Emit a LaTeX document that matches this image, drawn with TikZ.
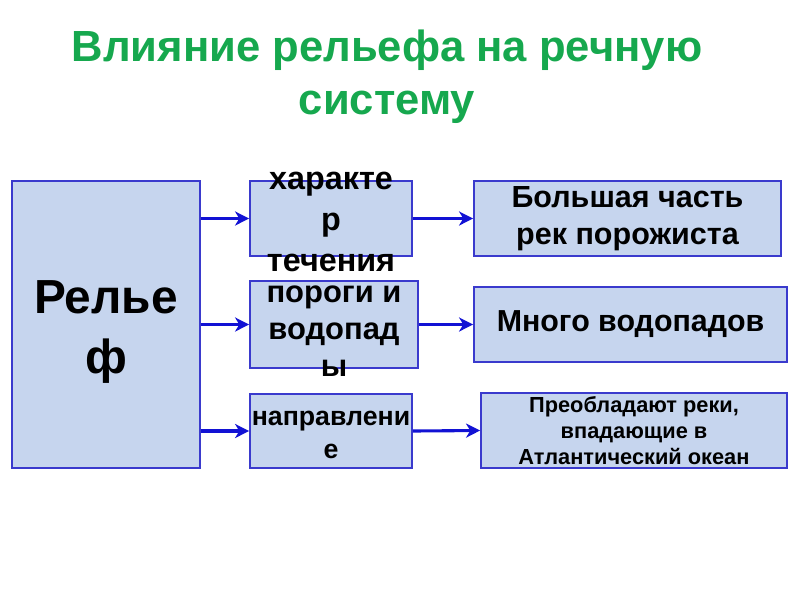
\documentclass[tikz,border=0pt]{standalone}
\usepackage{fontspec}
\setmainfont{Liberation Sans}
\usetikzlibrary{positioning, calc, arrows.meta}
\definecolor{titlegreen}{RGB}{22,168,78}
\definecolor{boxfill}{RGB}{198,213,238}
\definecolor{boxline}{RGB}{58,58,205}
\definecolor{arrowblue}{RGB}{18,18,212}

\tikzset{
  box/.style={draw=boxline, fill=boxfill, line width=1.2pt, inner sep=0pt},
  midtext/.style={align=center, inner sep=0pt},
  arr/.style={draw=arrowblue, line width=2.2pt, -{Stealth[length=10pt, width=10pt, inset=3pt]}}
}

\begin{document}
\begin{tikzpicture}[x=0.025cm, y=-0.025cm]
  \useasboundingbox (0,0) rectangle (800,600);

  % TITLE
  \node[titlegreen, align=center, font=\fontsize{31}{38}\selectfont\bfseries] (title) at (387,77)
    {Влияние рельефа на речную\\систему};

  % LEFT BOX
  \node[box, minimum width=4.7cm, minimum height=7.175cm] (relief) at (106,324.5) {};
  \node[midtext, font=\fontsize{34}{42}\selectfont\bfseries] (relieftext) at (106,332) {Релье\\ф};

  % MIDDLE BOXES (text runs over the box edges)
  \node[box, minimum width=4.05cm, minimum height=1.875cm] (flow) at (331,218.5) {};
  \node[box, minimum width=4.2cm, minimum height=2.175cm] (rapids) at (334,324.5) {};
  \node[box, minimum width=4.05cm, minimum height=1.85cm] (course) at (331,431) {};
  \node[midtext, font=\fontsize{23}{29}\selectfont\bfseries] (flowtext) at (331,222) {характе\\р\\течения};
  \node[midtext, font=\fontsize{22}{26.5}\selectfont\bfseries] (rapidstext) at (334,331) {пороги и\\водопад\\ы};
  \node[midtext, font=\fontsize{19}{24}\selectfont\bfseries] (coursetext) at (331,435) {направлени\\е};

  % RIGHT BOXES
  \node[box, minimum width=7.675cm, minimum height=1.875cm, align=center,
    font=\fontsize{21.7}{26}\selectfont\bfseries] (most) at (627.5,218.5) {Большая часть\\рек порожиста};
  \node[box, minimum width=7.825cm, minimum height=1.875cm,
    font=\fontsize{21.6}{26}\selectfont\bfseries] (falls) at (630.5,324.5) {Много водопадов};
  \node[box, minimum width=7.65cm, minimum height=1.875cm, align=center,
    font=\fontsize{15.5}{18.5}\selectfont\bfseries] (ocean) at (634,430.5)
    {Преобладают реки,\\впадающие в\\Атлантический океан};

  % arrows
  \foreach \a/\b in {flow/most, rapids/falls, course/ocean}{
    \draw[arr] (relief.east |- \a.west) -- (\a.west);
    \draw[arr] (\a.east) -- (\b.west);
  }
\end{tikzpicture}
\end{document}
